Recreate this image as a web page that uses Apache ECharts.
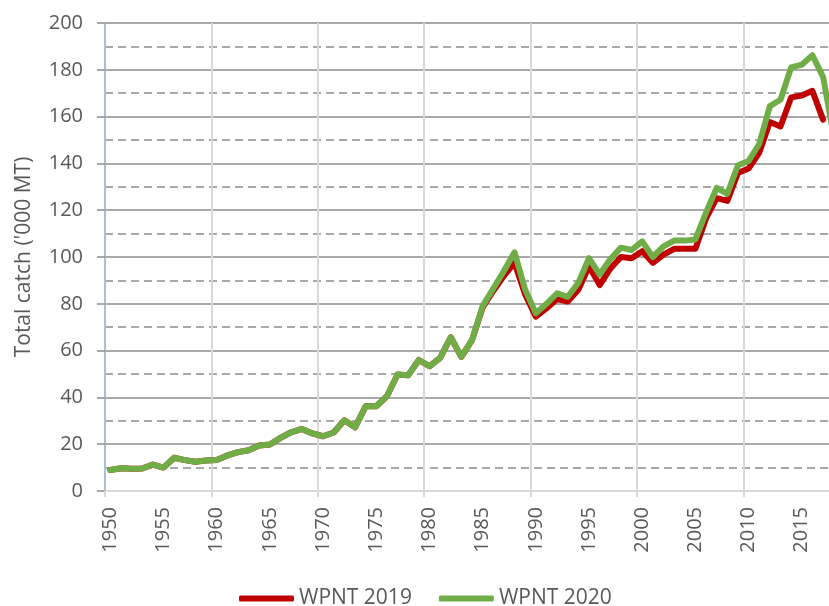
<!DOCTYPE html>
<html>
<head>
<meta charset="utf-8">
<script src="https://cdn.jsdelivr.net/npm/echarts@6/dist/echarts.min.js"></script>
<style>
  html, body { margin: 0; padding: 0; background: #fff; overflow: hidden; }
  #chart { width: 850px; height: 606px; }
</style>
</head>
<body>
<div id="chart"></div>
<script>
// years on the category axis (last one runs off the right edge)
const years = []
for (let y = 1950; y <= 2018; y++) years.push(String(y))

// WPNT 2019 assessment, '000 MT (1950-2017)
const wpnt2019 = [
  9, 9.7, 9.5, 9.6, 11.3, 10, 14.2, 13.2, 12.5, 13,
  13.2, 15.2, 16.6, 17.4, 19.4, 19.9, 22.7, 25.1, 26.5, 24.6,
  23.4, 25, 30.2, 27.2, 36.2, 36.2, 40.5, 49.8, 49.5, 56,
  53.3, 56.9, 65.7, 57.3, 64.5, 78.5, 85.5, 92, 97.5, 84,
  74.5, 78, 82, 81, 86, 96, 88, 95, 100, 99.5,
  102.5, 97.5, 101, 103.5, 103.5, 103.5, 116.5, 125.2, 124, 135.9,
  137.8, 144.5, 157.7, 155.8, 168.2, 169, 171, 158.7
]

// WPNT 2020 assessment, '000 MT (1950-2018)
const wpnt2020 = [
  9, 9.7, 9.5, 9.6, 11.3, 10, 14.2, 13.2, 12.5, 13,
  13.2, 15.2, 16.6, 17.4, 19.4, 19.9, 22.7, 25.1, 26.5, 24.6,
  23.4, 25, 30.2, 27.2, 36.2, 36.2, 40.5, 49.8, 49.5, 56,
  53.3, 56.9, 65.7, 57.3, 64.5, 79, 86.5, 94, 102, 86,
  76, 80, 84.5, 83, 89, 99.5, 92.5, 99, 104, 103,
  106.7, 100, 104.5, 107, 107, 107.5, 119, 129.5, 127, 139.2,
  141, 148.3, 164.5, 167.2, 181, 182.2, 186.2, 177, 152
]

const font = "'Open Sans', sans-serif"
const textColor = '#595959'

const chart = echarts.init(document.getElementById('chart'))
chart.setOption({
  animation: false,
  textStyle: { fontFamily: font },
  grid: { left: 105, top: 23, width: 734, height: 468 },
  legend: {
    left: 234,
    top: 583,
    itemWidth: 55,
    itemHeight: 6,
    itemGap: 27,
    icon: 'roundRect',
    textStyle: { fontSize: 21, color: textColor, fontFamily: font },
    data: ['WPNT 2019', 'WPNT 2020']
  },
  xAxis: {
    type: 'category',
    data: years,
    boundaryGap: true,
    axisLine: { lineStyle: { color: '#d9d9d9', width: 2 } },
    axisTick: { show: true, interval: 9, length: 6, lineStyle: { color: '#d9d9d9', width: 2 } },
    axisLabel: { interval: 4, rotate: 90, fontSize: 20, color: textColor, margin: 16, fontFamily: font },
    splitLine: { show: true, interval: 9, lineStyle: { color: '#d9d9d9', width: 2 } }
  },
  yAxis: {
    type: 'value',
    min: 0,
    max: 200,
    interval: 20,
    name: "Total catch ('000 MT)",
    nameLocation: 'middle',
    nameGap: 70,
    nameTextStyle: { fontSize: 21, color: textColor, fontFamily: font },
    axisLine: { show: true, lineStyle: { color: '#9db3d6', width: 1.5 } },
    axisTick: { show: true, length: 8, lineStyle: { color: '#8c8c8c', width: 1.5 } },
    axisLabel: { fontSize: 20, color: textColor, margin: 22, fontFamily: font },
    splitLine: { show: true, showMinLine: false, lineStyle: { color: '#8c8c8c', width: 1.5 } },
    minorTick: { show: false, splitNumber: 2 },
    minorSplitLine: { show: true, lineStyle: { color: '#8c8c8c', width: 1.5, type: [8, 5] } }
  },
  series: [
    {
      name: 'WPNT 2019',
      type: 'line',
      data: wpnt2019,
      symbol: 'none',
      itemStyle: { color: '#c00000' },
      lineStyle: { color: '#c00000', width: 6, cap: 'round', join: 'round' }
    },
    {
      name: 'WPNT 2020',
      type: 'line',
      data: wpnt2020,
      symbol: 'none',
      itemStyle: { color: '#70ad47' },
      lineStyle: { color: '#70ad47', width: 6, cap: 'round', join: 'round' }
    }
  ]
})
</script>
</body>
</html>
